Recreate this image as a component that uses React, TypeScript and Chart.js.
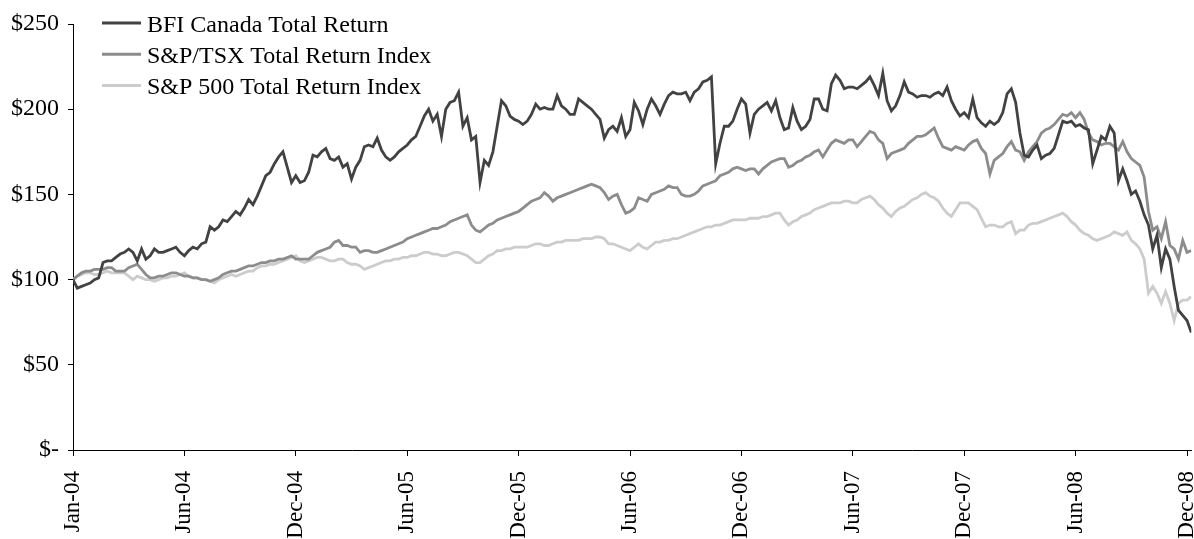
import { useEffect, useRef } from 'react';
import { Chart, registerables } from 'chart.js';

Chart.register(...registerables);

// Tick labels on the category (time) axis, one every 26 weekly observations
const TICK_LABELS = ['Jan-04', 'Jun-04', 'Dec-04', 'Jun-05', 'Dec-05', 'Jun-06', 'Dec-06', 'Jun-07', 'Dec-07', 'Jun-08', 'Dec-08'];
const WEEKS_PER_TICK = 26;

const SERIES_NAMES = ['BFI Canada Total Return', 'S&P/TSX Total Return Index', 'S&P 500 Total Return Index'];

// Weekly values (index 0 = Jan-04)
const BFI = [
  100, 95, 96, 97, 98, 100, 101, 110, 111, 111,
  113, 115, 116, 118, 116, 111, 118, 112, 114, 118,
  116, 116, 117, 118, 119, 116, 114, 117, 119, 118,
  121, 122, 131, 129, 131, 135, 134, 137, 140, 138,
  142, 147, 144, 149, 155, 161, 163, 168, 172, 175,
  166, 157, 161, 157, 158, 163, 173, 172, 175, 177,
  171, 170, 172, 166, 168, 159, 166, 170, 178, 179,
  178, 183, 176, 172, 170, 172, 175, 177, 179, 182,
  184, 190, 196, 200, 193, 197, 184, 200, 204, 205,
  210, 190, 195, 182, 184, 157, 170, 167, 175, 190,
  205, 202, 196, 194, 193, 191, 193, 197, 203, 200,
  201, 200, 200, 208, 202, 200, 197, 197, 206, 204,
  202, 200, 197, 194, 183, 188, 190, 187, 195, 184,
  188, 204, 199, 191, 200, 206, 202, 197, 203, 208,
  210, 209, 209, 210, 205, 210, 212, 216, 217, 219,
  168, 180, 190, 190, 193, 200, 206, 203, 186, 197,
  200, 202, 204, 199, 205, 195, 188, 189, 201, 193,
  188, 190, 194, 206, 206, 200, 199, 215, 220, 217,
  212, 213, 213, 212, 214, 216, 219, 214, 208, 221,
  205, 199, 202, 208, 216, 210, 209, 207, 208, 208,
  207, 209, 210, 208, 213, 205, 200, 196, 198, 195,
  206, 195, 192, 190, 193, 191, 193, 198, 209, 212,
  204, 186, 173, 172, 176, 179, 171, 173, 174, 177,
  185, 193, 192, 193, 190, 191, 189, 188, 168, 176,
  184, 182, 190, 186, 158, 165, 158, 150, 152, 146,
  138, 132, 118, 126, 107, 118, 112, 96, 82, 79,
  76, 69,
];

const TSX = [
  100, 102, 104, 105, 105, 106, 106, 106, 107, 107,
  105, 105, 105, 107, 108, 109, 106, 103, 101, 101,
  102, 102, 103, 104, 104, 103, 102, 102, 101, 101,
  100, 100, 99, 100, 101, 103, 104, 105, 105, 106,
  107, 108, 108, 109, 110, 110, 111, 111, 112, 112,
  113, 114, 112, 112, 112, 112, 114, 116, 117, 118,
  119, 122, 123, 120, 120, 119, 119, 116, 117, 117,
  116, 116, 117, 118, 119, 120, 121, 122, 124, 125,
  126, 127, 128, 129, 130, 130, 131, 132, 134, 135,
  136, 137, 138, 132, 129, 128, 130, 132, 133, 135,
  136, 137, 138, 139, 140, 142, 144, 146, 147, 148,
  151, 149, 146, 148, 149, 150, 151, 152, 153, 154,
  155, 156, 155, 154, 151, 147, 149, 150, 144, 139,
  140, 142, 148, 147, 146, 150, 151, 152, 153, 155,
  154, 154, 150, 149, 149, 150, 152, 155, 156, 157,
  158, 161, 162, 163, 165, 166, 165, 164, 165, 165,
  162, 165, 167, 169, 170, 171, 171, 166, 167, 169,
  170, 172, 173, 175, 176, 172, 176, 180, 182, 181,
  180, 182, 182, 178, 181, 184, 187, 186, 182, 180,
  171, 174, 175, 176, 177, 180, 182, 184, 184, 185,
  187, 189, 183, 178, 177, 176, 178, 177, 176, 179,
  181, 182, 177, 174, 162, 170, 172, 174, 178, 181,
  176, 175, 170, 175, 178, 181, 186, 188, 189, 191,
  194, 197, 196, 198, 195, 198, 194, 186, 182, 181,
  179, 180, 180, 178, 176, 181, 175, 171, 169, 167,
  160, 140, 129, 131, 124, 134, 120, 118, 112, 123,
  116, 117,
];

const SP500 = [
  100, 102, 103, 104, 104, 103, 103, 104, 105, 104,
  104, 104, 104, 102, 100, 102, 101, 100, 100, 99,
  100, 101, 101, 102, 102, 103, 104, 102, 101, 101,
  100, 100, 99, 98, 100, 101, 102, 103, 102, 103,
  104, 105, 105, 107, 108, 108, 109, 109, 110, 111,
  112, 113, 114, 111, 110, 111, 112, 113, 113, 112,
  111, 111, 112, 112, 110, 109, 109, 108, 106, 107,
  108, 109, 110, 111, 111, 112, 112, 113, 113, 114,
  114, 115, 116, 116, 115, 115, 114, 114, 115, 116,
  116, 115, 114, 112, 110, 110, 112, 114, 115, 117,
  117, 118, 118, 119, 119, 119, 119, 120, 121, 121,
  120, 120, 121, 122, 122, 123, 123, 123, 123, 124,
  124, 124, 125, 125, 124, 121, 121, 120, 119, 118,
  117, 119, 121, 119, 118, 120, 122, 122, 123, 123,
  124, 124, 125, 126, 127, 128, 129, 130, 131, 131,
  132, 132, 133, 134, 135, 135, 135, 135, 136, 136,
  136, 137, 137, 138, 139, 139, 135, 132, 134, 135,
  137, 138, 139, 141, 142, 143, 144, 145, 145, 145,
  146, 146, 145, 145, 147, 148, 149, 147, 144, 142,
  139, 137, 140, 142, 143, 145, 147, 148, 150, 151,
  149, 148, 146, 142, 139, 137, 141, 145, 145, 145,
  143, 141, 136, 131, 132, 132, 131, 131, 133, 134,
  127, 129, 129, 132, 133, 133, 134, 135, 136, 137,
  138, 139, 137, 134, 132, 129, 127, 126, 124, 123,
  124, 125, 126, 128, 127, 126, 128, 123, 121, 118,
  112, 92, 96, 92, 86, 93, 86, 76, 86, 88,
  88, 90,
];

const COLORS = ['#424242', '#8c8c8c', '#cccccc'];
const FONT_FAMILY = "'Liberation Serif', 'Times New Roman', serif";
const LABEL_SIZE = 24;
const X_LABEL_SIZE = 23;

const insideLegend = {
  id: 'insideLegend',
  afterDraw(chart: any) {
    const ctx = chart.ctx;
    ctx.save();
    chart.data.datasets.forEach((ds: any, i: number) => {
      const y = 23 + i * 31.2;
      ctx.strokeStyle = ds.borderColor;
      ctx.lineWidth = 3;
      ctx.beginPath();
      ctx.moveTo(102, y);
      ctx.lineTo(141, y);
      ctx.stroke();
      ctx.fillStyle = '#000';
      ctx.font = `${LABEL_SIZE}px ${FONT_FAMILY}`;
      ctx.textBaseline = 'alphabetic';
      ctx.textAlign = 'left';
      ctx.fillText(ds.label, 147, y + 9);
    });
    ctx.restore();
  },
};

export default function App() {
  const canvasRef = useRef<HTMLCanvasElement | null>(null);

  useEffect(() => {
    const canvas = canvasRef.current;
    if (!canvas) return;
    const seriesList = [BFI, TSX, SP500];
    const chart = new Chart(canvas, {
      type: 'line',
      data: {
        datasets: seriesList.map((values, k) => ({
          label: SERIES_NAMES[k],
          data: values.map((y, i) => ({ x: i, y })),
          borderColor: COLORS[k],
          backgroundColor: COLORS[k],
          borderWidth: 2.8,
          pointRadius: 0,
          tension: 0,
          fill: false,
        })),
      },
      options: {
        animation: false,
        responsive: false,
        maintainAspectRatio: false,
        layout: { padding: { top: 24, right: 2.7, left: 0, bottom: 0 } },
        plugins: { legend: { display: false }, tooltip: { enabled: false } },
        scales: {
          x: {
            type: 'linear',
            min: 0,
            max: BFI.length - 1,
            afterBuildTicks: (scale: any) => {
              scale.ticks = TICK_LABELS.map((_, i) => ({ value: i * WEEKS_PER_TICK }));
            },
            afterFit: (scale: any) => {
              scale.height = 89;
              scale.paddingLeft = 0;
              scale.paddingRight = 0;
            },
            ticks: {
              autoSkip: false,
              minRotation: 90,
              maxRotation: 90,
              padding: 15,
              color: '#000',
              font: { family: FONT_FAMILY, size: X_LABEL_SIZE },
              callback: (v: any) => TICK_LABELS[Math.round(Number(v) / WEEKS_PER_TICK)] ?? '',
            },
            grid: { drawOnChartArea: false, drawTicks: true, tickLength: 6, color: '#000' },
            border: { display: true, color: '#000', width: 1 },
          },
          y: {
            min: 0,
            max: 250,
            afterFit: (scale: any) => {
              scale.width = 73;
              scale.paddingTop = 0;
              scale.paddingBottom = 0;
            },
            ticks: {
              stepSize: 50,
              padding: 9,
              color: '#000',
              font: { family: FONT_FAMILY, size: LABEL_SIZE },
              callback: (v: any) => (Number(v) === 0 ? '$-' : '$' + v),
            },
            grid: { drawOnChartArea: false, drawTicks: true, tickLength: 5, color: '#000' },
            border: { display: true, color: '#000', width: 1 },
          },
        },
      },
      plugins: [insideLegend],
    });
    return () => chart.destroy();
  }, []);

  return (
    <div style={{ position: 'fixed', left: 0, top: 0, width: 1194, height: 539, background: '#fff' }}>
      <canvas ref={canvasRef} width={1194} height={539} style={{ display: 'block', width: 1194, height: 539 }} />
    </div>
  );
}
